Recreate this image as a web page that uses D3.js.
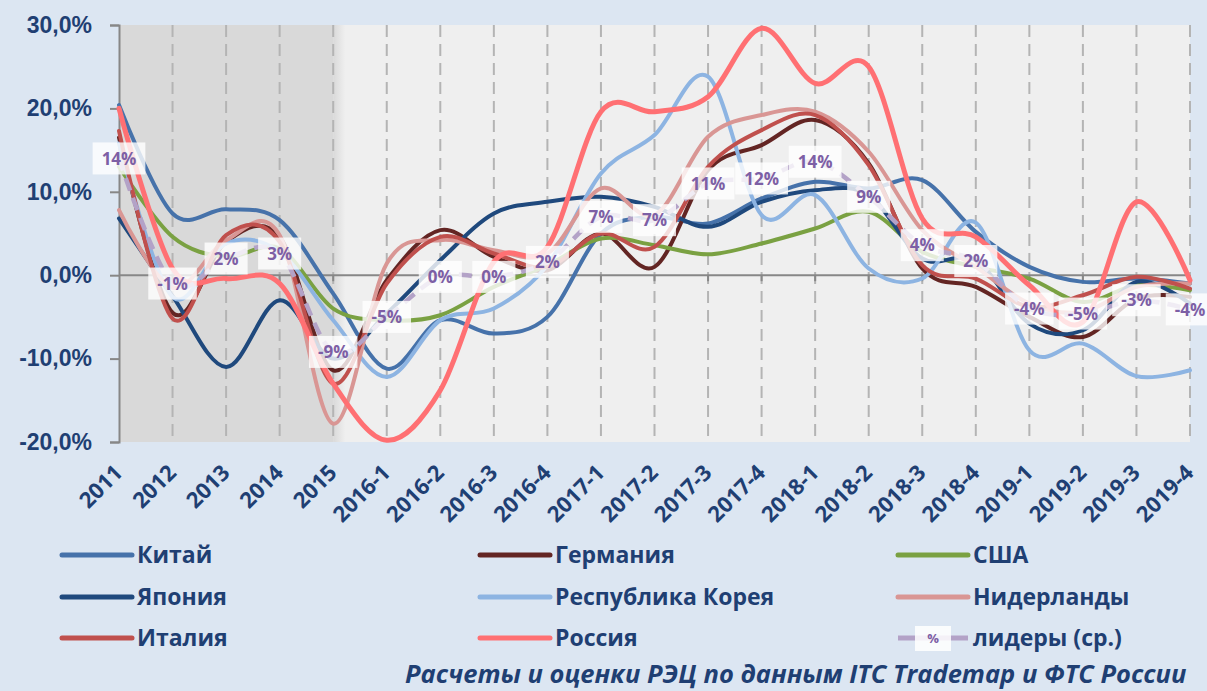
<!DOCTYPE html>
<html>
<head>
<meta charset="utf-8">
<script src="https://cdn.jsdelivr.net/npm/d3@7"></script>
<style>
  body { margin: 0; background: #dce6f2; }
  svg { display: block; font-family: "Open Sans", sans-serif; }
</style>
</head>
<body>
<div id="chart"></div>
<script>
const categories = ["2011", "2012", "2013", "2014", "2015",
  "2016-1", "2016-2", "2016-3", "2016-4",
  "2017-1", "2017-2", "2017-3", "2017-4",
  "2018-1", "2018-2", "2018-3", "2018-4",
  "2019-1", "2019-2", "2019-3", "2019-4"];

const china       = [20.4, 7.4, 7.9, 6.6, -2.2, -11.2, -5.4, -7.0, -5.0, 5.0, 7.0, 6.2, 9.2, 11.2, 10.4, 11.4, 5.2, 1.0, -0.8, -0.4, -1.0];
const germany     = [16.5, -4.5, 4.0, 4.6, -11.4, -0.6, 5.4, 2.2, 0.6, 5.0, 1.0, 12.6, 15.6, 18.6, 13.4, 0.8, -1.4, -5.0, -7.4, -2.8, -2.6];
const usa         = [13.0, 4.6, 2.2, 3.2, -4.0, -5.4, -4.8, -1.4, 1.2, 4.4, 3.6, 2.5, 3.8, 5.6, 7.6, 2.8, 1.0, -0.4, -3.2, -1.2, -1.8];
const japan       = [6.8, -2.5, -11.0, -3.0, -10.0, -4.6, 1.8, 7.4, 8.8, 9.4, 8.2, 5.8, 8.8, 10.2, 9.6, 2.0, 1.8, -5.8, -6.6, -0.8, -3.4];
const korea       = [15.8, -2.6, 3.8, 2.8, -5.4, -12.2, -5.4, -4.0, 1.2, 12.2, 16.8, 23.8, 7.2, 9.6, 0.8, -0.4, 6.3, -9.0, -8.2, -12.1, -11.4];
const netherlands = [7.8, -1.5, 4.2, 4.8, -17.8, 1.4, 4.2, 3.0, 2.6, 10.4, 7.2, 16.6, 19.2, 19.6, 14.8, 5.4, 1.0, -3.4, -4.4, -1.4, -1.0];
const italy       = [17.3, -5.2, 4.8, 4.0, -13.0, -1.0, 4.6, 2.6, 1.0, 5.0, 3.4, 13.0, 17.4, 19.2, 13.2, 1.2, -0.4, -3.8, -2.4, -0.2, -1.6];
const russia      = [20.0, 0.8, -0.4, -1.0, -13.0, -19.8, -13.8, 1.6, 3.4, 19.6, 19.6, 21.4, 29.6, 23.0, 25.0, 6.8, 4.6, -1.2, -5.6, 8.8, -0.6];
const leaders     = [14, -1, 2, 2.6, -9.2, -5, -0.2, -0.2, 1.6, 7, 6.6, 11, 11.6, 13.6, 9.4, 3.6, 1.7, -4, -4.6, -3, -4.1];
const leaderLabels = ["14%", "-1%", "2%", "3%", "-9%", "-5%", "0%", "0%", "2%", "7%", "7%", "11%", "12%", "14%", "9%", "4%", "2%", "-4%", "-5%", "-3%", "-4%"];
const yTicks = [30, 20, 10, 0, -10, -20];

const series = [
  { name: "Китай", values: china, color: "#4672aa", w: 4 },
  { name: "Германия", values: germany, color: "#632523", w: 4 },
  { name: "США", values: usa, color: "#7aa142", w: 4 },
  { name: "Япония", values: japan, color: "#1f497d", w: 4 },
  { name: "Республика Корея", values: korea, color: "#8db4e2", w: 4 },
  { name: "Нидерланды", values: netherlands, color: "#d99694", w: 4 },
  { name: "Италия", values: italy, color: "#c0504d", w: 4 },
  { name: "Россия", values: russia, color: "#ff7073", w: 5 }
];

const width = 1207, height = 691,
    margin = ({ top: 25, right: 17, bottom: 249, left: 119 });

const svg = d3.select("#chart")
    .append("svg")
    .attr("width", width)
    .attr("height", height)
    .attr("viewBox", [0, 0, width, height]);

svg.append("rect").attr("width", width).attr("height", height).attr("fill", "#dce6f2");

let x = d3.scalePoint()
    .domain(categories)
    .range([margin.left, width - margin.right]);

let y = d3.scaleLinear()
    .domain([-20, 30])
    .range([height - margin.bottom, margin.top]);

// plot background: shaded years + light quarters
const grad = svg.append("defs").append("linearGradient")
    .attr("id", "fade").attr("x1", "0").attr("x2", "1");
grad.append("stop").attr("offset", "0").attr("stop-color", "#d9d9d9");
grad.append("stop").attr("offset", "1").attr("stop-color", "#efefef");

svg.append("rect")
    .attr("x", margin.left).attr("y", y(30))
    .attr("width", x(categories[20]) - margin.left).attr("height", y(-20) - y(30))
    .attr("fill", "#efefef");
svg.append("rect")
    .attr("x", margin.left).attr("y", y(30))
    .attr("width", x("2015") - margin.left).attr("height", y(-20) - y(30))
    .attr("fill", "#d9d9d9");
svg.append("rect")
    .attr("x", x("2015")).attr("y", y(30))
    .attr("width", 12).attr("height", y(-20) - y(30))
    .attr("fill", "url(#fade)");

// vertical dashed grid
svg.append("g")
    .selectAll("line")
    .data(categories.slice(1))
    .join("line")
    .attr("x1", d => x(d)).attr("x2", d => x(d))
    .attr("y1", y(30)).attr("y2", y(-20))
    .attr("stroke", "#b4b4b4")
    .attr("stroke-width", 2)
    .attr("stroke-dasharray", "12,7");

// zero line with small ticks
svg.append("line")
    .attr("x1", margin.left).attr("x2", x(categories[20]))
    .attr("y1", y(0)).attr("y2", y(0))
    .attr("stroke", "#878787").attr("stroke-width", 2);
svg.append("g")
    .selectAll("line")
    .data(categories.slice(1))
    .join("line")
    .attr("x1", d => x(d)).attr("x2", d => x(d))
    .attr("y1", y(0)).attr("y2", y(0) + 6)
    .attr("stroke", "#878787").attr("stroke-width", 2);

// y axis
const yAxis = svg.append("g")
    .attr("transform", `translate(${margin.left},0)`)
    .call(d3.axisLeft(y).tickValues(yTicks).tickSize(9).tickPadding(18)
        .tickFormat(d => d3.format(".1f")(d).replace(".", ",").replace("−", "-") + "%"));
yAxis.select(".domain").attr("stroke", "#878787").attr("stroke-width", 2);
yAxis.selectAll(".tick line").attr("stroke", "#878787").attr("stroke-width", 2);
yAxis.selectAll(".tick text")
    .attr("fill", "#1f3f73")
    .style("font-size", "23px")
    .style("font-weight", "700");

// x labels
svg.append("g")
    .selectAll("text")
    .data(categories)
    .join("text")
    .attr("transform", d => `translate(${x(d) + 5},${height - margin.bottom + 32}) rotate(-45)`)
    .attr("text-anchor", "end")
    .attr("fill", "#1f3f73")
    .style("font-size", "22px")
    .style("font-weight", "700")
    .text(d => d);

const line = d3.line()
    .x((d, i) => x(categories[i]))
    .y(d => y(d))
    .curve(d3.curveCardinal.tension(0));

svg.append("g")
    .attr("class", "plot")
    .selectAll("path")
    .data(series)
    .join("path")
    .attr("d", d => line(d.values))
    .attr("fill", "none")
    .attr("stroke", d => d.color)
    .attr("stroke-width", d => d.w)
    .attr("stroke-linecap", "round");

svg.append("path")
    .attr("d", line(leaders))
    .attr("fill", "none")
    .attr("stroke", "#b3a2c7")
    .attr("stroke-width", 4.5)
    .attr("stroke-dasharray", "13,8");

const lab = svg.append("g")
    .selectAll("g")
    .data(leaders)
    .join("g")
    .attr("transform", (d, i) => `translate(${x(categories[i])},${y(d)})`);

lab.append("text")
    .attr("text-anchor", "middle")
    .attr("dy", "0.36em")
    .attr("fill", "#7d5fa5")
    .style("font-size", "17px")
    .style("font-weight", "700")
    .text((d, i) => leaderLabels[i]);

lab.each(function() {
    const g = d3.select(this);
    const bb = g.select("text").node().getBBox();
    g.insert("rect", "text")
        .attr("x", bb.x - 9).attr("y", -16)
        .attr("width", bb.width + 18).attr("height", 32)
        .attr("fill", "#ffffff").attr("fill-opacity", 0.8);
});

// legend
const legendItems = series.map(s => ({ name: s.name, color: s.color }))
    .concat([{ name: "лидеры (ср.)", color: "#b3a2c7", dashed: true }]);
const colX = [62, 480, 898], rowY = [555, 597, 638];

const leg = svg.append("g")
    .attr("class", "legend")
    .selectAll("g")
    .data(legendItems)
    .join("g")
    .attr("transform", (d, i) => `translate(${colX[i % 3]},${rowY[Math.floor(i / 3)]})`);

leg.append("line")
    .attr("x1", 0).attr("x2", 70)
    .attr("stroke", d => d.color)
    .attr("stroke-width", 5)
    .attr("stroke-linecap", d => d.dashed ? "butt" : "round");

leg.filter(d => d.dashed).append("rect")
    .attr("x", 17).attr("y", -12).attr("width", 36).attr("height", 25)
    .attr("fill", "#ffffff").attr("fill-opacity", 0.85);
leg.filter(d => d.dashed).append("text")
    .attr("x", 35).attr("dy", "0.36em")
    .attr("text-anchor", "middle")
    .attr("fill", "#7d5fa5")
    .style("font-size", "13px")
    .style("font-weight", "700")
    .text("%");

leg.append("text")
    .attr("x", 75)
    .attr("dy", "0.36em")
    .attr("fill", "#1f3f73")
    .style("font-size", "23px")
    .style("font-weight", "700")
    .text(d => d.name);

svg.append("text")
    .attr("x", 405)
    .attr("y", 683)
    .attr("fill", "#1f3f73")
    .style("font-size", "25.5px")
    .style("font-weight", "700")
    .style("font-style", "italic")
    .text("Расчеты и оценки РЭЦ по данным ITC Trademap и ФТС России");
</script>
</body>
</html>
